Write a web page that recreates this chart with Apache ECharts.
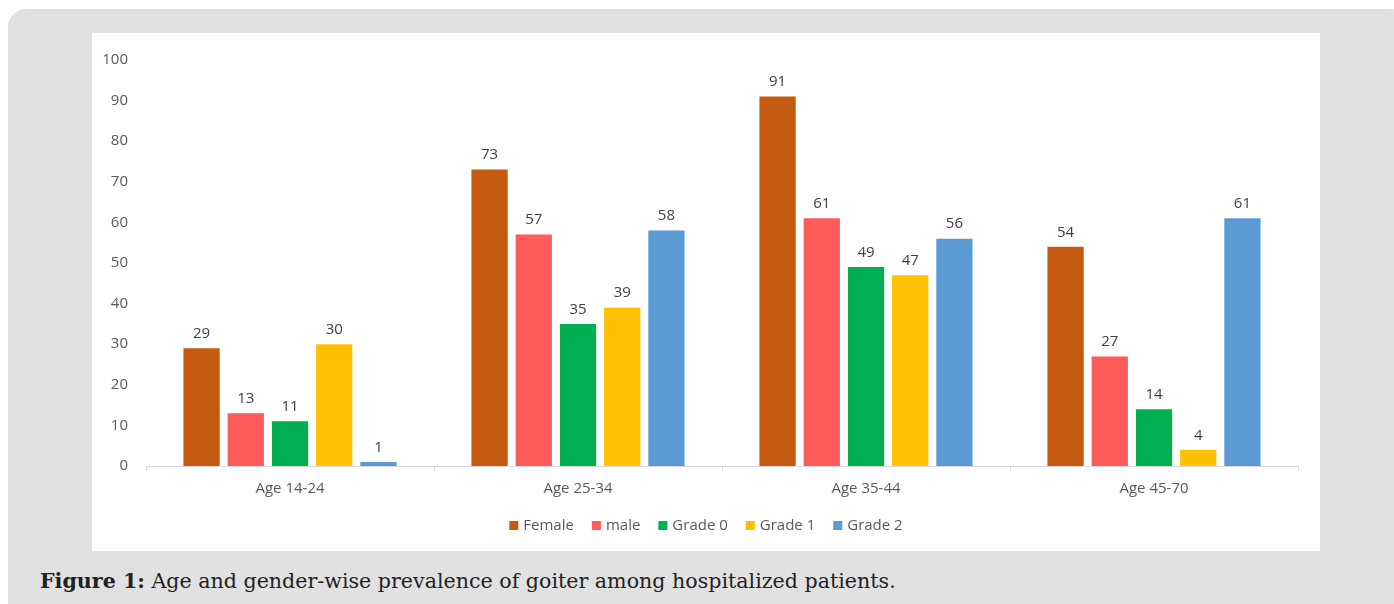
<!DOCTYPE html>
<html>
<head>
<meta charset="utf-8">
<script src="https://cdn.jsdelivr.net/npm/echarts@6/dist/echarts.min.js"></script>
<style>
  html, body { margin: 0; padding: 0; background: #ffffff; width: 1394px; height: 604px; overflow: hidden; }
  #panel { position: absolute; left: 8px; top: 9px; width: 1400px; height: 620px; background: #e1e1e1; border-radius: 18px; }
  #chart { position: absolute; left: 92px; top: 33px; width: 1228px; height: 518px; background: #ffffff; }
  #caption { position: absolute; left: 40px; top: 569px; font-family: "DejaVu Serif", "Liberation Serif", serif; font-size: 20.6px; color: #222222; white-space: nowrap; }
  #caption b { font-weight: bold; }
</style>
</head>
<body>
<div id="panel"></div>
<div id="chart"></div>
<div id="caption"><b>Figure 1:</b> Age and gender-wise prevalence of goiter among hospitalized patients.</div>
<script>
const categories = ["Age 14-24", "Age 25-34", "Age 35-44", "Age 45-70"];
const seriesNames = ["Female", "male", "Grade 0", "Grade 1", "Grade 2"];
const female = [29, 73, 91, 54];
const male = [13, 57, 61, 27];
const grade0 = [11, 35, 49, 14];
const grade1 = [30, 39, 47, 4];
const grade2 = [1, 58, 56, 61];
const yTicks = [0, 10, 20, 30, 40, 50, 60, 70, 80, 90, 100];

const colors = ["#C55A11", "#FF5B5B", "#00B050", "#FFC000", "#5B9BD5"];
const values = [female, male, grade0, grade1, grade2];
const font = '"Open Sans", "Noto Sans", sans-serif';

const chart = echarts.init(document.getElementById('chart'), null, { renderer: 'canvas' });
chart.setOption({
  animation: false,
  color: colors,
  grid: { left: 54, right: 22, top: 27, bottom: 85, containLabel: false },
  legend: {
    data: seriesNames,
    left: 'center',
    top: 480,
    itemWidth: 9,
    itemHeight: 9,
    itemGap: 18,
    icon: 'rect',
    textStyle: { color: '#595959', fontSize: 15, fontFamily: font }
  },
  xAxis: {
    type: 'category',
    data: categories,
    axisLine: { lineStyle: { color: '#d9d9d9', width: 1 } },
    axisTick: { show: true, length: 5, lineStyle: { color: '#d9d9d9' } },
    axisLabel: { color: '#595959', fontSize: 15, fontFamily: font, margin: 15 }
  },
  yAxis: {
    type: 'value',
    min: yTicks[0],
    max: yTicks[yTicks.length - 1],
    interval: 10,
    axisLine: { show: false },
    axisTick: { show: false },
    splitLine: { show: false },
    axisLabel: { color: '#595959', fontSize: 15, fontFamily: font, margin: 18 }
  },
  series: seriesNames.map((name, i) => ({
    name: name,
    type: 'bar',
    data: values[i],
    barGap: '22%',
    barCategoryGap: '26%',
    itemStyle: { color: colors[i] },
    label: { show: true, position: 'top', distance: 7, color: '#404040', fontSize: 15, fontFamily: font }
  }))
});
</script>
</body>
</html>
